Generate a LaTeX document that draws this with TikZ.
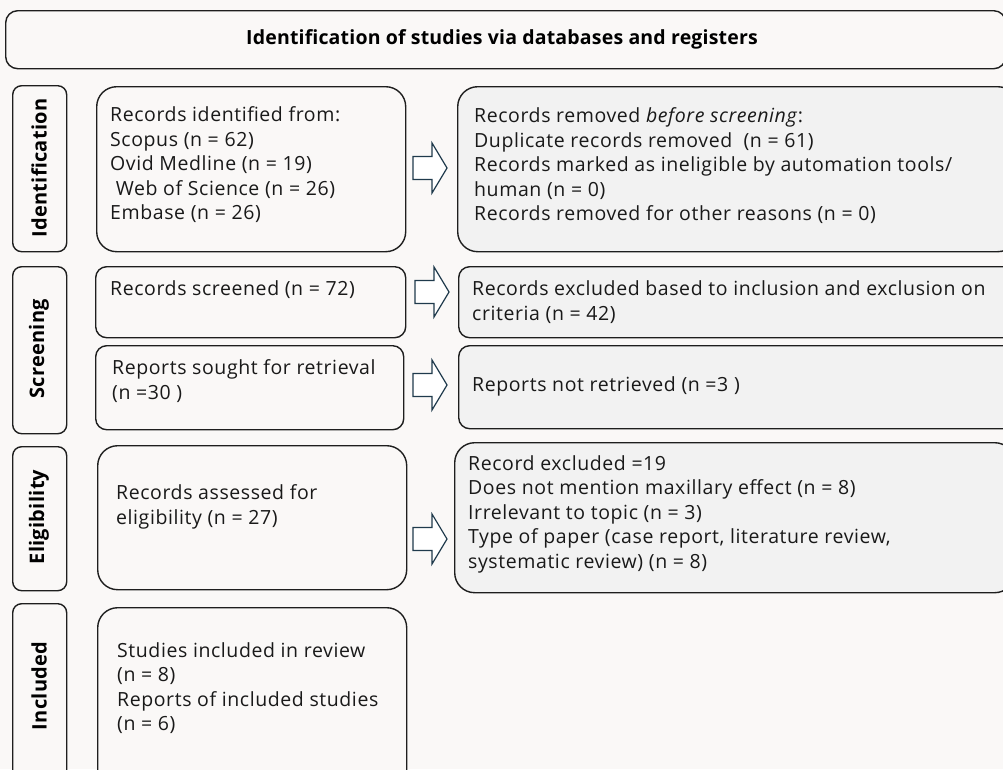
\documentclass[tikz,border=0pt]{standalone}
\usepackage{fontspec}
\setmainfont{Open Sans}
\definecolor{bg}{HTML}{FAF8F7}
\definecolor{grayfill}{HTML}{F2F2F2}
\definecolor{edge}{HTML}{1E1E1E}
\definecolor{arrowedge}{HTML}{1F3A4C}
\tikzset{
  box/.style={draw=edge, line width=1.4pt, rounded corners=20pt, fill=bg, anchor=north west, inner sep=0pt},
  smallbox/.style={box, rounded corners=11pt},
  graybox/.style={box, fill=grayfill},
  stagebox/.style={draw=edge, line width=1.4pt, rounded corners=9pt, fill=bg, anchor=north west, inner sep=0pt, minimum width=54pt},
  stagetext/.style={rotate=90, font=\fontsize{20}{24}\selectfont\bfseries\addfontfeatures{LetterSpace=1.5}, inner sep=0pt},
  txt/.style={anchor=west, align=left, inner sep=0pt, font=\fontsize{19.5}{24.5}\selectfont\addfontfeatures{LetterSpace=3}, text=black!90},
  blockarrow/.pic={\draw[draw=arrowedge, line width=1.2pt, fill=white, line join=miter]
     (0,-11.5) -- (19,-11.5) -- (19,-25) -- (34,0) -- (19,25) -- (19,11.5) -- (0,11.5) -- cycle;}
}
\begin{document}
\begin{tikzpicture}[x=1pt,y=-1pt]
\useasboundingbox (0,0) rectangle (1003,769);
\fill[bg] (0,0) rectangle (1003,769);

% title
\node[box, rounded corners=12pt, minimum width=1000pt, minimum height=58pt] (title) at (5,10) {};
\node[font=\fontsize{19.5}{23}\selectfont\bfseries\addfontfeatures{LetterSpace=1}, inner sep=0pt] (titletext) at (502,39) {Identification of studies via databases and registers};

% stage labels
\node[stagebox, minimum height=166pt] (sid) at (12,85) {};
\node[stagetext] (sidt) at (39,168) {Identification};
\node[stagebox, minimum height=167pt] (ssc) at (12,266) {};
\node[stagetext] (ssct) at (39,349) {Screening};
\node[stagebox, minimum height=144pt] (sel) at (12,446) {};
\node[stagetext] (selt) at (39,517) {Eligibility};
\node[stagebox, minimum height=190pt] (sin) at (12,603) {};
\node[stagetext] (sint) at (39,686) {Included};

% middle column
\node[box, minimum width=309pt, minimum height=165pt] (ident) at (96,86) {};
\node[txt] (identt) at (110,165) {Records identified from:\\Scopus (n = 62)\\Ovid Medline (n = 19)\\\ Web of Science (n = 26)\\Embase (n = 26)};

\node[smallbox, minimum width=310pt, minimum height=71pt] (screen) at (95,266) {};
\node[txt] (screent) at (110,290) {Records screened (n = 72)};

\node[smallbox, minimum width=308pt, minimum height=84pt] (sought) at (95,345) {};
\node[txt] (soughtt) at (112,381) {Reports sought for retrieval\\(n =30 )};

\node[box, minimum width=309pt, minimum height=144pt] (assess) at (97,445) {};
\node[txt] (assesst) at (116,507) {Records assessed for\\eligibility (n = 27)};

\node[box, minimum width=309pt, minimum height=190pt] (incl) at (97,607) {};
\node[txt] (inclt) at (117,688) {Studies included in review\\(n = 8)\\Reports of included studies\\(n = 6)};

% right column
\node[graybox, minimum width=560pt, minimum height=165pt] (removed) at (457,86) {};
\node[txt] (removedt) at (474,166) {Records removed \textit{before screening}:\\Duplicate records removed\ \ (n = 61)\\Records marked as ineligible by automation tools/\\human (n = 0)\\Records removed for other reasons (n = 0)};

\node[smallbox, fill=grayfill, minimum width=560pt, minimum height=71pt] (excl) at (458,266) {};
\node[txt] (exclt) at (472,302) {Records excluded based to inclusion and exclusion on\\criteria (n = 42)};

\node[smallbox, fill=grayfill, minimum width=560pt, minimum height=83pt] (notret) at (458,345) {};
\node[txt] (notrett) at (472,386) {Reports not retrieved (n =3 )};

\node[graybox, minimum width=560pt, minimum height=150pt] (excl19) at (454,442) {};
\node[txt] (excl19t) at (468,514) {Record excluded =19\\Does not mention maxillary effect (n = 8)\\Irrelevant to topic (n = 3)\\Type of paper (case report, literature review,\\systematic review) (n = 8)};

% block arrows
\pic at (413,168) {blockarrow};
\pic at (415,292) {blockarrow};
\pic at (413,385) {blockarrow};
\pic at (413,539) {blockarrow};
\end{tikzpicture}
\end{document}
